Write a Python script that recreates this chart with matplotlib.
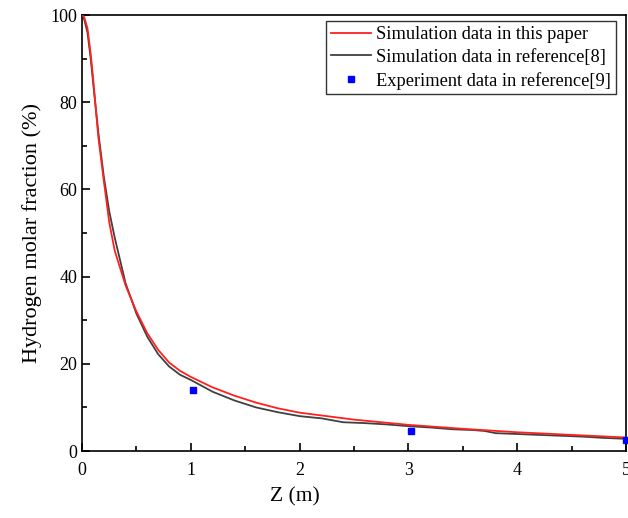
import matplotlib
matplotlib.use("Agg")
import matplotlib.pyplot as plt
from matplotlib.ticker import MultipleLocator

plt.rcParams['font.family'] = ['Liberation Serif', 'DejaVu Serif']
plt.rcParams['mathtext.fontset'] = 'stix'

z = [0, 0.02, 0.05, 0.08, 0.1, 0.15, 0.2, 0.25, 0.3, 0.4, 0.5, 0.6, 0.7, 0.8, 0.9,
     1.0, 1.2, 1.4, 1.6, 1.8, 2.0, 2.5, 3.0, 3.5, 4.0, 4.5, 5.0]
sim_paper = [100, 99.5, 97, 91, 86, 72, 62, 52.5, 46, 38, 32, 27, 23.2, 20.3, 18.4,
             17.0, 14.6, 12.7, 11.1, 9.8, 8.8, 7.2, 6.0, 5.1, 4.3, 3.7, 3.1]

z_ref = [0, 0.02, 0.05, 0.08, 0.1, 0.15, 0.2, 0.25, 0.3, 0.4, 0.5, 0.6, 0.7, 0.8, 0.9,
         1.0, 1.2, 1.4, 1.6, 1.8, 2.0, 2.2, 2.4, 2.6, 2.8, 3.0, 3.2, 3.4, 3.6, 3.7, 3.8,
         4.0, 4.2, 4.4, 4.6, 4.8, 5.0]
sim_ref = [100, 99, 96, 90, 85, 73, 63, 55, 49, 38.5, 31.5, 26.2, 22.2, 19.4, 17.5,
           16.3, 13.6, 11.6, 10.0, 8.9, 8.0, 7.5, 6.6, 6.4, 6.1, 5.7, 5.4, 5.0, 4.8, 4.6, 4.1,
           3.9, 3.7, 3.5, 3.3, 3.0, 2.8]

z_exp = [1.02, 3.02, 5.0]
h2_exp = [13.9, 4.6, 2.5]

fig = plt.figure(figsize=(6.28, 5.18), dpi=100)
ax = fig.add_axes([0.1306, 0.1293, 0.8664, 0.8417])

ax.plot(z, sim_paper, color='#ff2020', lw=1.3, label='Simulation data in this paper', zorder=3)
ax.plot(z_ref, sim_ref, color='#404040', lw=1.3, label='Simulation data in reference[8]', zorder=2)
ax.plot(z_exp, h2_exp, linestyle='none', marker='s', markersize=4.5, color='#0000ff',
        label='Experiment data in reference[9]', clip_on=False, zorder=4)

ax.set_xlim(0, 5)
ax.set_ylim(0, 100)
ax.xaxis.set_major_locator(MultipleLocator(1))
ax.xaxis.set_minor_locator(MultipleLocator(0.5))
ax.yaxis.set_major_locator(MultipleLocator(20))
ax.yaxis.set_minor_locator(MultipleLocator(10))
ax.tick_params(which='both', direction='in', labelsize=13, width=1.2)
ax.tick_params(which='major', length=6)
ax.tick_params(which='minor', length=3.5)
ax.tick_params(axis='x', pad=8)
for s in ax.spines.values():
    s.set_linewidth(1.2)

ax.set_xlabel('Z (m)', fontsize=15.5)
ax.xaxis.set_label_coords(0.392, -0.082)
ax.set_ylabel('Hydrogen molar fraction (%)', fontsize=16, labelpad=6)

leg = ax.legend(loc='upper right', fontsize=13.2, frameon=True, fancybox=False,
                edgecolor='black', borderaxespad=0.35, handlelength=2.2,
                handletextpad=0.3, borderpad=0.25, labelspacing=0.32,
                bbox_to_anchor=(0.993, 1.0))
leg.get_frame().set_linewidth(1.0)

fig.savefig('out.png', dpi=100)
